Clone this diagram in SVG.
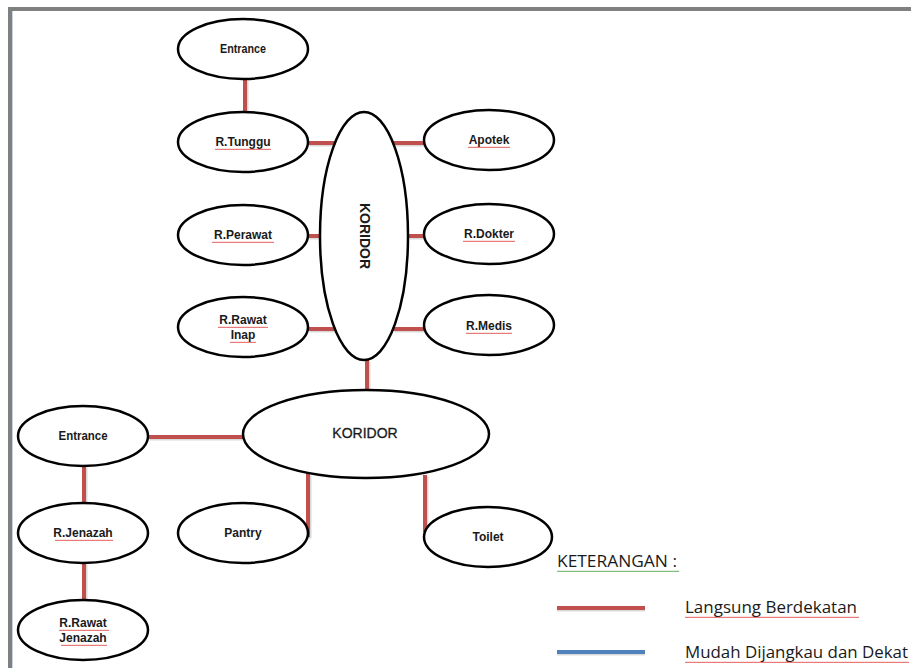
<svg xmlns="http://www.w3.org/2000/svg" width="911" height="668" viewBox="0 0 911 668">
<defs>
<pattern id="wr" width="4" height="3" patternUnits="userSpaceOnUse"><path d="M0,2 L1,0.8 L2,2 L3,0.8 L4,2" fill="none" stroke="#e03030" stroke-width="0.7"/></pattern>
<pattern id="wg" width="4" height="3" patternUnits="userSpaceOnUse"><path d="M0,2 L1,0.8 L2,2 L3,0.8 L4,2" fill="none" stroke="#3a9a3a" stroke-width="0.7"/></pattern>
</defs>
<style>
.n{fill:#fff;stroke:#000;stroke-width:2.5}
.t{font-family:"Liberation Sans",Arial,sans-serif;font-weight:bold;font-size:12px;fill:#1a1a1a;text-anchor:middle}
.c{stroke:#c0504d;stroke-width:4;fill:none}
.s{stroke:#000;stroke-opacity:0.15;stroke-width:4;fill:none}
.lg{font-family:"Open Sans","Liberation Sans",sans-serif;font-size:16px;fill:#1a1a1a}
.wr{fill:url(#wr)}
.wg{fill:url(#wg)}
</style>
<rect x="0" y="0" width="911" height="668" fill="#fff"/>
<rect x="8" y="7" width="903" height="4" fill="#808080"/>
<rect x="8" y="7" width="4" height="661" fill="#808080"/>
<rect x="12" y="11" width="1" height="657" fill="#c8d4e4"/>

<g id="connectors">
<g transform="translate(1.5,1.5)">
<path class="s" d="M245,79V112 M308,143H336 M393,143H424 M308,236H320 M408,236H424 M308,329H336 M393,329H424 M367,360V390 M148,437H243 M308,474V537 M425,475V532 M84,466V503 M84,563V600"/>
</g>
<path class="c" d="M245,79V112 M308,143H336 M393,143H424 M308,236H320 M408,236H424 M308,329H336 M393,329H424 M367,360V390 M148,437H243 M308,474V537 M425,475V532 M84,466V503 M84,563V600"/>
</g>

<g id="entrance-top"><ellipse class="n" cx="243" cy="49" rx="65" ry="30"/><text class="t" x="243" y="53" textLength="46" lengthAdjust="spacingAndGlyphs">Entrance</text></g>
<g id="r-tunggu"><ellipse class="n" cx="243" cy="142" rx="65" ry="30"/><text class="t" x="243" y="146">R.Tunggu</text><rect class="wr" transform="translate(215,148)" width="56" height="3"/></g>
<g id="apotek"><ellipse class="n" cx="489" cy="140" rx="65" ry="30"/><text class="t" x="489" y="144">Apotek</text><rect class="wr" transform="translate(468,146)" width="42" height="3"/></g>
<g id="r-perawat"><ellipse class="n" cx="243" cy="235" rx="65" ry="30"/><text class="t" x="243" y="239">R.Perawat</text><rect class="wr" transform="translate(212,241)" width="62" height="3"/></g>
<g id="r-dokter"><ellipse class="n" cx="489" cy="234" rx="65" ry="30"/><text class="t" x="489" y="238">R.Dokter</text><rect class="wr" transform="translate(463,240)" width="52" height="3"/></g>
<g id="r-rawat-inap"><ellipse class="n" cx="243" cy="327" rx="65" ry="30"/><text class="t" x="243" y="324">R.Rawat</text><text class="t" x="243" y="339">Inap</text><rect class="wr" transform="translate(218,326)" width="50" height="3"/><rect class="wr" transform="translate(230,341)" width="26" height="3"/></g>
<g id="r-medis"><ellipse class="n" cx="489" cy="325" rx="65" ry="30"/><text class="t" x="489" y="330">R.Medis</text><rect class="wr" transform="translate(466,332)" width="46" height="3"/></g>
<g id="koridor-v"><ellipse class="n" cx="364" cy="236" rx="44" ry="124"/><text class="t" x="0" y="0" style="font-size:14px" transform="translate(360,236) rotate(90)">KORIDOR</text></g>
<g id="koridor-h"><ellipse class="n" cx="366" cy="434" rx="123" ry="44"/><text class="t" x="365" y="438" style="font-size:14px;font-weight:normal;stroke:#1a1a1a;stroke-width:0.3">KORIDOR</text></g>
<g id="entrance-left"><ellipse class="n" cx="83" cy="436" rx="65" ry="30"/><text class="t" x="83" y="440" textLength="49" lengthAdjust="spacingAndGlyphs">Entrance</text></g>
<g id="r-jenazah"><ellipse class="n" cx="83" cy="533" rx="65" ry="30"/><text class="t" x="83" y="537">R.Jenazah</text><rect class="wr" transform="translate(55,539)" width="58" height="3"/></g>
<g id="r-rawat-jenazah"><ellipse class="n" cx="83" cy="630" rx="65" ry="30"/><text class="t" x="83" y="627">R.Rawat</text><text class="t" x="83" y="642">Jenazah</text><rect class="wr" transform="translate(59,629)" width="50" height="3"/><rect class="wr" transform="translate(61,644)" width="46" height="3"/></g>
<g id="pantry"><ellipse class="n" cx="243" cy="533" rx="65" ry="30"/><text class="t" x="243" y="537">Pantry</text></g>
<g id="toilet"><ellipse class="n" cx="488" cy="537" rx="64" ry="30"/><text class="t" x="488" y="541">Toilet</text></g>

<g id="legend">
<text class="lg" x="557" y="567" textLength="120" lengthAdjust="spacingAndGlyphs">KETERANGAN :</text>
<rect class="wg" transform="translate(557,570)" width="122" height="3"/>
<line x1="557" y1="609.5" x2="645" y2="609.5" stroke="#000" stroke-opacity="0.15" stroke-width="4"/>
<line x1="557" y1="608" x2="645" y2="608" stroke="#c0504d" stroke-width="4"/>
<text class="lg" x="685" y="613" textLength="172" lengthAdjust="spacingAndGlyphs">Langsung Berdekatan</text>
<rect class="wr" transform="translate(685,616)" width="174" height="3"/>
<line x1="557" y1="653.5" x2="645" y2="653.5" stroke="#000" stroke-opacity="0.15" stroke-width="4"/>
<line x1="557" y1="652" x2="645" y2="652" stroke="#4f81bd" stroke-width="4"/>
<text class="lg" x="685" y="658" textLength="223" lengthAdjust="spacingAndGlyphs">Mudah Dijangkau dan Dekat</text>
<rect class="wr" transform="translate(685,661)" width="224" height="3"/>
</g>
</svg>
